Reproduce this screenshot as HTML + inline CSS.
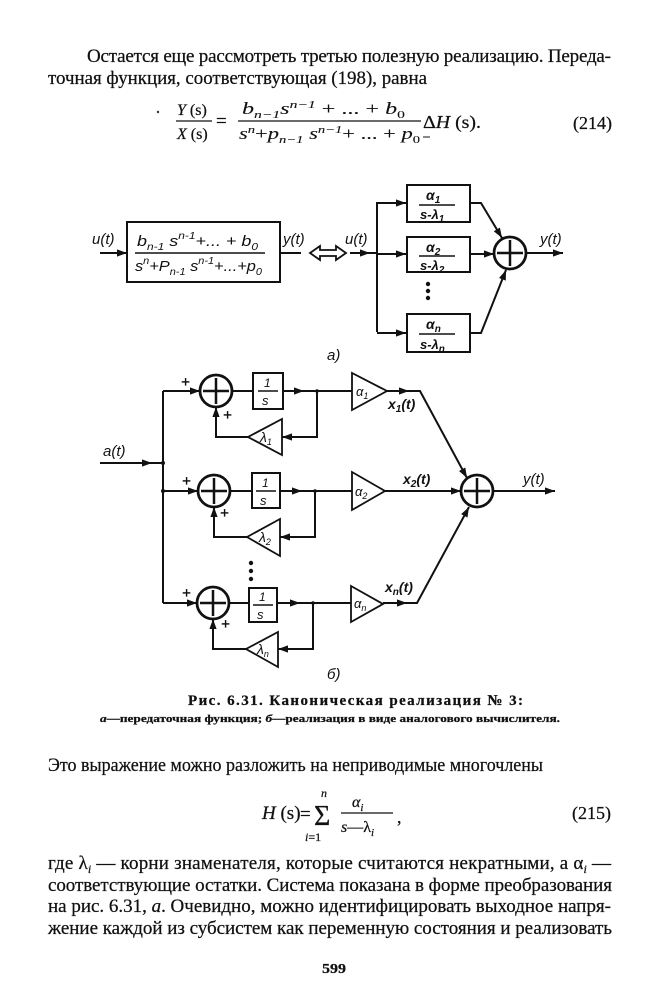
<!DOCTYPE html>
<html><head><meta charset="utf-8"><style>
html,body{margin:0;padding:0;background:#fff;}
svg{display:block;}
.t{font-family:"Liberation Serif",serif;fill:#111;stroke:#111;stroke-width:0.25;}
.d{font-family:"Liberation Sans",sans-serif;font-style:italic;fill:#111;}
.ln{stroke:#111;stroke-width:2;fill:none;}
</style></head><body>
<svg width="662" height="1000" viewBox="0 0 662 1000" xmlns="http://www.w3.org/2000/svg">
<defs>
<path id="ah" d="M0,0 L-10,-3.6 L-10,3.6 z" fill="#111"/>
</defs>

<!-- top paragraph -->
<text class="t" x="87" y="62" font-size="19" textLength="524" lengthAdjust="spacing">Остается еще рассмотреть третью полезную реализацию. Переда-</text>
<text class="t" x="48" y="84" font-size="19" textLength="379" lengthAdjust="spacingAndGlyphs">точная функция, соответствующая (198), равна</text>

<!-- formula 214 -->
<circle cx="158" cy="112" r="1.2" fill="#333"/>
<text class="t" x="177" y="115" font-size="16"><tspan font-style="italic">Y</tspan> (s)</text>
<line x1="176" y1="121" x2="212" y2="121" stroke="#111" stroke-width="1.2"/>
<text class="t" x="177" y="139" font-size="16"><tspan font-style="italic">X</tspan> (s)</text>
<text class="t" x="216" y="127" font-size="19">=</text>
<text class="t" x="242" y="114" font-size="17" textLength="163" lengthAdjust="spacingAndGlyphs" style="stroke-width:0.1"><tspan font-style="italic">b</tspan><tspan font-size="11" dy="4" font-style="italic">n−1</tspan><tspan dy="-4" font-style="italic">s</tspan><tspan font-size="11" dy="-6" font-style="italic">n−1</tspan><tspan dy="6"> + ... + </tspan><tspan font-style="italic">b</tspan><tspan font-size="11" dy="4">0</tspan></text>
<line x1="238" y1="121" x2="421" y2="121" stroke="#111" stroke-width="1.2"/>
<text class="t" x="239" y="139" font-size="17" textLength="181" lengthAdjust="spacingAndGlyphs" style="stroke-width:0.1"><tspan font-style="italic">s</tspan><tspan font-size="11" dy="-6" font-style="italic">n</tspan><tspan dy="6">+</tspan><tspan font-style="italic">p</tspan><tspan font-size="11" dy="4" font-style="italic">n−1</tspan><tspan dy="-4" font-style="italic"> s</tspan><tspan font-size="11" dy="-6" font-style="italic">n−1</tspan><tspan dy="6">+ ... + </tspan><tspan font-style="italic">p</tspan><tspan font-size="11" dy="4">0</tspan></text>
<text class="t" x="423" y="128" font-size="18" textLength="58" lengthAdjust="spacingAndGlyphs">Δ<tspan font-style="italic">H</tspan> (s).</text>
<line x1="423" y1="137" x2="430" y2="137" stroke="#111" stroke-width="1"/>
<text class="t" x="573" y="129" font-size="18">(214)</text>

<!-- ===== Diagram a ===== -->
<text class="d" x="92" y="244" font-size="15">u(t)</text>
<line class="ln" x1="100" y1="253" x2="127" y2="253"/>
<use href="#ah" transform="translate(127,253)"/>
<rect x="127" y="222" width="153" height="60" fill="none" stroke="#111" stroke-width="2"/>
<text class="d" x="137" y="246" font-size="15" textLength="121" lengthAdjust="spacingAndGlyphs">b<tspan font-size="10" dy="4">n-1</tspan><tspan dy="-4"> s</tspan><tspan font-size="10" dy="-7">n-1</tspan><tspan dy="7">+... + b</tspan><tspan font-size="10" dy="4">0</tspan></text>
<line x1="135" y1="253" x2="265" y2="253" stroke="#111" stroke-width="1.5"/>
<text class="d" x="135" y="271" font-size="15" textLength="127" lengthAdjust="spacingAndGlyphs">s<tspan font-size="10" dy="-7">n</tspan><tspan dy="7">+P</tspan><tspan font-size="10" dy="4">n-1</tspan><tspan dy="-4"> s</tspan><tspan font-size="10" dy="-7">n-1</tspan><tspan dy="7">+...+p</tspan><tspan font-size="10" dy="4">0</tspan></text>
<text class="d" x="283" y="244" font-size="15">y(t)</text>
<line class="ln" x1="280" y1="253" x2="301" y2="253"/>
<polygon points="310,253 320,246 320,250 336,250 336,246 346,253 336,260 336,256 320,256 320,260" fill="#fff" stroke="#111" stroke-width="1.8" stroke-linejoin="miter"/>
<text class="d" x="345" y="244" font-size="15">u(t)</text>
<line class="ln" x1="350" y1="253" x2="377" y2="253"/>
<use href="#ah" transform="translate(370,253)"/>
<path class="ln" d="M377 202 V332 M377 203 H407 M377 254 H407 M377 333 H407"/>
<use href="#ah" transform="translate(406,203)"/>
<use href="#ah" transform="translate(406,254)"/>
<use href="#ah" transform="translate(406,333)"/>
<rect x="407" y="185" width="63" height="37" fill="none" stroke="#111" stroke-width="2"/>
<rect x="407" y="237" width="63" height="35" fill="none" stroke="#111" stroke-width="2"/>
<rect x="407" y="314" width="63" height="38" fill="none" stroke="#111" stroke-width="2"/>
<text class="d" x="426" y="200" font-size="14" font-weight="bold">α<tspan font-size="10" dy="3">1</tspan></text>
<line x1="419" y1="205" x2="455" y2="205" stroke="#111" stroke-width="1.5"/>
<text class="d" x="420" y="219" font-size="13" font-weight="bold">s-λ<tspan font-size="10" dy="3">1</tspan></text>
<text class="d" x="426" y="252" font-size="14" font-weight="bold">α<tspan font-size="10" dy="3">2</tspan></text>
<line x1="419" y1="256" x2="455" y2="256" stroke="#111" stroke-width="1.5"/>
<text class="d" x="420" y="270" font-size="13" font-weight="bold">s-λ<tspan font-size="10" dy="3">2</tspan></text>
<text class="d" x="426" y="329" font-size="14" font-weight="bold">α<tspan font-size="10" dy="3">n</tspan></text>
<line x1="419" y1="334" x2="455" y2="334" stroke="#111" stroke-width="1.5"/>
<text class="d" x="420" y="349" font-size="13" font-weight="bold">s-λ<tspan font-size="10" dy="3">n</tspan></text>
<circle cx="428" cy="284" r="2.2" fill="#111"/>
<circle cx="428" cy="291" r="2.2" fill="#111"/>
<circle cx="428" cy="298" r="2.2" fill="#111"/>
<path class="ln" d="M470 203 H481 L502 238 M470 254 H494 M470 333 H481 L506 270"/>
<use href="#ah" transform="translate(502,238) rotate(59)"/>
<use href="#ah" transform="translate(494,254)"/>
<use href="#ah" transform="translate(506,270) rotate(-69)"/>
<circle cx="510" cy="253" r="16" fill="none" stroke="#111" stroke-width="2.8"/>
<path d="M497 253 H523 M510 240 V266" stroke="#111" stroke-width="2.5"/>
<line class="ln" x1="526" y1="253" x2="563" y2="253"/>
<use href="#ah" transform="translate(563,253)"/>
<text class="d" x="540" y="244" font-size="15">y(t)</text>
<text class="d" x="327" y="360" font-size="15">a)</text>

<!-- ===== Diagram b ===== -->
<text class="d" x="103" y="456" font-size="15">a(t)</text>
<line class="ln" x1="100" y1="463" x2="163" y2="463"/>
<use href="#ah" transform="translate(152,463)"/>
<path class="ln" d="M163 391 V603"/>
<circle cx="163" cy="463" r="2" fill="#111"/>
<circle cx="163" cy="491" r="2" fill="#111"/>

<!-- row 1 -->
<path class="ln" d="M163 391 H200"/>
<use href="#ah" transform="translate(200,391)"/>
<circle cx="216" cy="391" r="16" fill="none" stroke="#111" stroke-width="2.8"/>
<path d="M203 391 H229 M216 378 V404" stroke="#111" stroke-width="2.5"/>
<text class="t" x="181" y="387" font-size="16" font-weight="bold">+</text>
<text class="t" x="223" y="420" font-size="16" font-weight="bold">+</text>
<path class="ln" d="M232 391 H253 M283 391 H352 M387 391 H420 L467 478"/>
<rect x="253" y="373" width="30" height="36" fill="none" stroke="#111" stroke-width="2"/>
<text class="d" x="264" y="387" font-size="12">1</text>
<line x1="258" y1="391" x2="278" y2="391" stroke="#111" stroke-width="1.5"/>
<text class="d" x="262" y="405" font-size="13">s</text>
<use href="#ah" transform="translate(304,391)"/>
<circle cx="317" cy="391" r="1.8" fill="#111"/>
<polygon points="352,373 352,410 387,391" fill="#fff" stroke="#111" stroke-width="1.8"/>
<text class="d" x="356" y="396" font-size="13">α<tspan font-size="9" dy="3">1</tspan></text>
<use href="#ah" transform="translate(409,391)"/>
<text class="d" x="388" y="409" font-size="14" font-weight="bold">x<tspan font-size="10" dy="3">1</tspan><tspan dy="-3">(t)</tspan></text>
<path class="ln" d="M317 391 V437 H282 M248 437 H216 V407"/>
<use href="#ah" transform="translate(282,437) rotate(180)"/>
<use href="#ah" transform="translate(216,407) rotate(-90)"/>
<polygon points="282,419 282,455 248,437" fill="#fff" stroke="#111" stroke-width="1.8"/>
<text class="d" x="260" y="442" font-size="14">λ<tspan font-size="9" dy="3">1</tspan></text>

<!-- row 2 -->
<path class="ln" d="M163 491 H198"/>
<use href="#ah" transform="translate(198,491)"/>
<circle cx="214" cy="491" r="16" fill="none" stroke="#111" stroke-width="2.8"/>
<path d="M201 491 H227 M214 478 V504" stroke="#111" stroke-width="2.5"/>
<text class="t" x="182" y="486" font-size="16" font-weight="bold">+</text>
<text class="t" x="220" y="518" font-size="16" font-weight="bold">+</text>
<path class="ln" d="M230 491 H252 M280 491 H352 M385 491 H461"/>
<rect x="252" y="473" width="28" height="35" fill="none" stroke="#111" stroke-width="2"/>
<text class="d" x="262" y="487" font-size="12">1</text>
<line x1="256" y1="491" x2="276" y2="491" stroke="#111" stroke-width="1.5"/>
<text class="d" x="260" y="505" font-size="13">s</text>
<use href="#ah" transform="translate(302,491)"/>
<circle cx="315" cy="491" r="1.8" fill="#111"/>
<polygon points="352,472 352,510 385,491" fill="#fff" stroke="#111" stroke-width="1.8"/>
<text class="d" x="355" y="496" font-size="13">α<tspan font-size="9" dy="3">2</tspan></text>
<use href="#ah" transform="translate(461,491)"/>
<text class="d" x="403" y="484" font-size="14" font-weight="bold">x<tspan font-size="10" dy="3">2</tspan><tspan dy="-3">(t)</tspan></text>
<path class="ln" d="M315 491 V537 H280 M247 537 H214 V507"/>
<use href="#ah" transform="translate(280,537) rotate(180)"/>
<use href="#ah" transform="translate(214,507) rotate(-90)"/>
<polygon points="280,519 280,556 247,537" fill="#fff" stroke="#111" stroke-width="1.8"/>
<text class="d" x="259" y="542" font-size="14">λ<tspan font-size="9" dy="3">2</tspan></text>
<circle cx="251" cy="563" r="2.2" fill="#111"/>
<circle cx="251" cy="571" r="2.2" fill="#111"/>
<circle cx="251" cy="579" r="2.2" fill="#111"/>

<!-- row n -->
<path class="ln" d="M163 603 H197"/>
<use href="#ah" transform="translate(197,603)"/>
<circle cx="213" cy="603" r="16" fill="none" stroke="#111" stroke-width="2.8"/>
<path d="M200 603 H226 M213 590 V616" stroke="#111" stroke-width="2.5"/>
<text class="t" x="182" y="598" font-size="16" font-weight="bold">+</text>
<text class="t" x="221" y="629" font-size="16" font-weight="bold">+</text>
<path class="ln" d="M229 603 H249 M277 603 H351 M383 603 H417 L469 507"/>
<rect x="249" y="588" width="28" height="34" fill="none" stroke="#111" stroke-width="2"/>
<text class="d" x="259" y="601" font-size="12">1</text>
<line x1="253" y1="605" x2="273" y2="605" stroke="#111" stroke-width="1.5"/>
<text class="d" x="257" y="619" font-size="13">s</text>
<use href="#ah" transform="translate(300,603)"/>
<circle cx="313" cy="603" r="1.8" fill="#111"/>
<polygon points="351,586 351,622 383,604" fill="#fff" stroke="#111" stroke-width="1.8"/>
<text class="d" x="354" y="608" font-size="13">α<tspan font-size="9" dy="3">n</tspan></text>
<use href="#ah" transform="translate(407,603)"/>
<text class="d" x="385" y="592" font-size="14" font-weight="bold">x<tspan font-size="10" dy="3">n</tspan><tspan dy="-3">(t)</tspan></text>
<path class="ln" d="M313 603 V649 H278 M246 649 H213 V619"/>
<use href="#ah" transform="translate(278,649) rotate(180)"/>
<use href="#ah" transform="translate(213,619) rotate(-90)"/>
<polygon points="278,632 278,667 246,649" fill="#fff" stroke="#111" stroke-width="1.8"/>
<text class="d" x="257" y="654" font-size="14">λ<tspan font-size="9" dy="3">n</tspan></text>

<!-- big sum -->
<use href="#ah" transform="translate(467,478) rotate(61)"/>
<use href="#ah" transform="translate(469,507) rotate(-62)"/>
<circle cx="477" cy="491" r="16" fill="none" stroke="#111" stroke-width="2.8"/>
<path d="M464 491 H490 M477 478 V504" stroke="#111" stroke-width="2.5"/>
<line class="ln" x1="493" y1="491" x2="555" y2="491"/>
<use href="#ah" transform="translate(555,491)"/>
<text class="d" x="523" y="484" font-size="15">y(t)</text>
<text class="d" x="327" y="679" font-size="15">б)</text>

<!-- caption -->
<text class="t" x="188" y="705" font-size="15" font-weight="bold" textLength="335" lengthAdjust="spacing">Рис. 6.31. Каноническая реализация № 3:</text>
<text class="t" x="100" y="722" font-size="11" font-weight="bold" textLength="460" lengthAdjust="spacingAndGlyphs"><tspan font-style="italic">а</tspan>—передаточная функция; <tspan font-style="italic">б</tspan>—реализация в виде  аналогового вычислителя.</text>

<!-- paragraph -->
<text class="t" x="48" y="771" font-size="19" textLength="495" lengthAdjust="spacingAndGlyphs">Это выражение можно разложить на неприводимые многочлены</text>

<!-- formula 215 -->
<text class="t" x="262" y="819" font-size="19"><tspan font-style="italic">H</tspan> (s)</text>
<text class="t" x="300" y="820" font-size="19">=</text>
<text class="t" x="314" y="825" font-size="28">Σ</text>
<text class="t" x="321" y="797" font-size="12" font-style="italic">n</text>
<text class="t" x="305" y="841" font-size="12"><tspan font-style="italic">i</tspan>=1</text>
<text class="t" x="352" y="807" font-size="16" font-style="italic">α<tspan font-size="11" dy="4">i</tspan></text>
<line x1="341" y1="813" x2="393" y2="813" stroke="#111" stroke-width="1.2"/>
<text class="t" x="341" y="832" font-size="16"><tspan font-style="italic">s</tspan>—λ<tspan font-size="11" dy="4" font-style="italic">i</tspan></text>
<text class="t" x="397" y="823" font-size="18">,</text>
<text class="t" x="572" y="819" font-size="18">(215)</text>

<!-- bottom paragraph -->
<text class="t" x="48" y="869" font-size="19" textLength="563" lengthAdjust="spacing">где λ<tspan font-size="12" dy="4" font-style="italic">i</tspan><tspan dy="-4"> — корни знаменателя, которые считаются некратными, а α</tspan><tspan font-size="12" dy="4" font-style="italic">i</tspan><tspan dy="-4"> —</tspan></text>
<text class="t" x="48" y="891" font-size="19" textLength="564" lengthAdjust="spacing">соответствующие остатки. Система показана в форме преобразования</text>
<text class="t" x="48" y="912" font-size="19" textLength="563" lengthAdjust="spacing">на рис. 6.31, <tspan font-style="italic">а</tspan>. Очевидно, можно идентифицировать выходное напря-</text>
<text class="t" x="48" y="934" font-size="19" textLength="564" lengthAdjust="spacing">жение каждой из субсистем как переменную состояния и реализовать</text>

<text class="t" x="322" y="973" font-size="14" font-weight="bold" textLength="24" lengthAdjust="spacingAndGlyphs">599</text>
</svg>
</body></html>
